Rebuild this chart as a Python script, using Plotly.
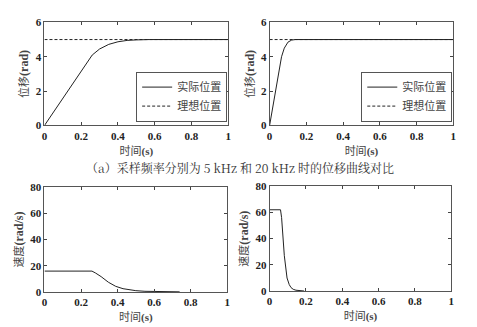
import plotly.graph_objects as go

# Top-left: 5 kHz displacement
t_a1 = [0, 0.05, 0.1, 0.15, 0.2, 0.26, 0.3, 0.35, 0.4, 0.45, 0.5, 0.57, 1.0]
pos_a1 = [0, 0.8, 1.6, 2.4, 3.2, 4.1, 4.45, 4.72, 4.87, 4.95, 4.98, 5.0, 5.0]
# Top-right: 20 kHz displacement
t_a2 = [0, 0.02, 0.04, 0.065, 0.08, 0.1, 0.12, 0.14, 1.0]
pos_a2 = [0, 1.25, 2.5, 4.0, 4.5, 4.85, 4.97, 5.0, 5.0]
# Ideal position
t_ideal = [0, 1.0]
pos_ideal = [5, 5]
# Bottom-left: 5 kHz velocity
t_b1 = [0, 0.26, 0.28, 0.31, 0.35, 0.39, 0.43, 0.47, 0.5, 0.55, 0.6, 0.74]
vel_b1 = [16, 16, 14.5, 11.8, 7.5, 4.4, 2.6, 1.6, 1.1, 0.6, 0.35, 0.2]
# Bottom-right: 20 kHz velocity
t_b2 = [0, 0.06, 0.066, 0.072, 0.081, 0.096, 0.108, 0.118, 0.13, 0.145, 0.165, 0.19]
vel_b2 = [62, 62, 56, 46, 27, 10, 5, 2.7, 1.4, 0.7, 0.3, 0.1]

x_ticks = [0, 0.2, 0.4, 0.6, 0.8, 1]
x_ticktext = ["<b>0</b>", "<b>0.2</b>", "<b>0.4</b>", "<b>0.6</b>", "<b>0.8</b>", "<b>1</b>"]

caption = "（a）采样频率分别为 5 kHz 和 20 kHz 时的位移曲线对比"
legend_labels = ["实际位置", "理想位置"]
xtitle = "时间<span style='font-family:Liberation Serif'><b>(s)</b></span>"
ytitle_pos = "位移<span style='font-family:Liberation Serif;font-size:12px'><b>(rad)</b></span>"
ytitle_vel = "速度<span style='font-family:Liberation Serif;font-size:12px'><b>(rad/s)</b></span>"

fig = go.Figure()
line = dict(color="#222", width=1)
dash = dict(color="#222", width=1, dash="3px,2px")

fig.add_trace(go.Scatter(x=t_ideal, y=pos_ideal, mode="lines", line=dash, name=legend_labels[1],
                         xaxis="x", yaxis="y", legend="legend", legendrank=2))
fig.add_trace(go.Scatter(x=t_a1, y=pos_a1, mode="lines", line=line, name=legend_labels[0],
                         xaxis="x", yaxis="y", legend="legend", legendrank=1))
fig.add_trace(go.Scatter(x=t_ideal, y=pos_ideal, mode="lines", line=dash, name=legend_labels[1],
                         xaxis="x2", yaxis="y2", legend="legend2", legendrank=2))
fig.add_trace(go.Scatter(x=t_a2, y=pos_a2, mode="lines", line=line, name=legend_labels[0],
                         xaxis="x2", yaxis="y2", legend="legend2", legendrank=1))
fig.add_trace(go.Scatter(x=t_b1, y=vel_b1, mode="lines", line=line, showlegend=False,
                         xaxis="x3", yaxis="y3"))
fig.add_trace(go.Scatter(x=t_b2, y=vel_b2, mode="lines", line=line, showlegend=False,
                         xaxis="x4", yaxis="y4"))

W, H = 477, 327
tickfont = dict(family="Liberation Serif", size=11, color="#222")
titlefont = dict(family="Noto Sans CJK SC, Liberation Serif", size=11, color="#444")

def xax(domain, anchor):
    return dict(domain=domain, anchor=anchor, range=[0, 1], tickvals=x_ticks, ticktext=x_ticktext,
                ticks="inside", ticklen=3, tickcolor="#444", showline=True, linecolor="#555",
                linewidth=1, mirror="ticks", showgrid=False, zeroline=False, tickfont=tickfont,
                title=dict(text=xtitle, font=titlefont, standoff=0))

def yax(domain, anchor, rng, vals, title):
    return dict(domain=domain, anchor=anchor, range=rng, tickvals=vals,
                ticktext=["<b>%d</b>" % v for v in vals],
                ticks="inside", ticklen=3, tickcolor="#444", showline=True, linecolor="#555",
                linewidth=1, mirror="ticks", showgrid=False, zeroline=False,
                tickfont=tickfont, title=dict(text=title, font=titlefont, standoff=4))

legend_common = dict(xanchor="right", yanchor="bottom",
                     bordercolor="#555", borderwidth=1, bgcolor="white",
                     font=dict(family="Noto Sans CJK SC", size=11, color="#444"),
                     tracegroupgap=0, itemwidth=30)

fig.update_layout(
    width=W, height=H, margin=dict(l=0, r=0, t=0, b=0),
    paper_bgcolor="white", plot_bgcolor="white",
    xaxis=xax([42 / W, 228 / W], "y"),
    yaxis=yax([1 - 124 / H, 1 - 17 / H], "x", [0, 6], [0, 2, 4, 6], ytitle_pos),
    xaxis2=xax([270 / W, 456 / W], "y2"),
    yaxis2=yax([1 - 124 / H, 1 - 17 / H], "x2", [0, 6], [0, 2, 4, 6], ytitle_pos),
    xaxis3=xax([42 / W, 227 / W], "y3"),
    yaxis3=yax([1 - 297 / H, 1 - 188 / H], "x3", [0, 80], [0, 20, 40, 60, 80], ytitle_vel),
    xaxis4=xax([270 / W, 454 / W], "y4"),
    yaxis4=yax([1 - 296 / H, 1 - 187 / H], "x4", [0, 80], [0, 20, 40, 60, 80], ytitle_vel),
    legend=dict(x=227 / W, y=1 - 120 / H, **legend_common),
    legend2=dict(x=455 / W, y=1 - 120 / H, **legend_common),
    annotations=[
        dict(text=caption, x=240 / W, y=1 - 168 / H, xref="paper", yref="paper",
             showarrow=False, xanchor="center", yanchor="middle",
             font=dict(family="Noto Serif CJK SC, Noto Sans CJK SC, Liberation Serif",
                       size=12, color="#333")),
    ],
)

fig.write_html("out.html")
